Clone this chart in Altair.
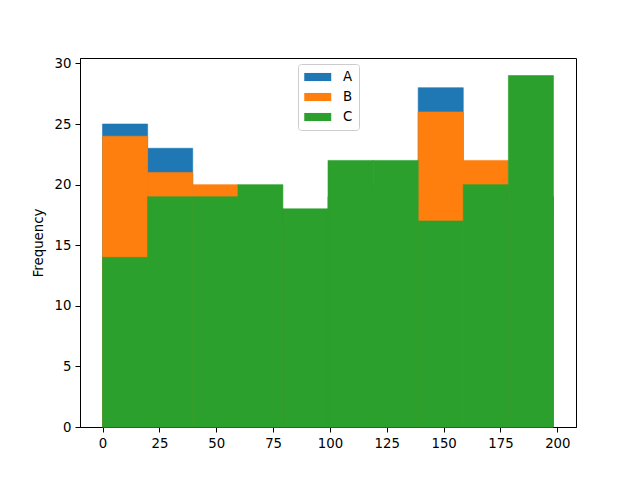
import altair as alt
import pandas as pd
import numpy as np

series = ["A", "B", "C"]
counts_A = [25, 23, 17, 18, 15, 19, 20, 28, 16, 19]
counts_B = [24, 21, 20, 17, 16, 18, 19, 26, 22, 17]
counts_C = [14, 19, 19, 20, 18, 22, 22, 17, 20, 29]
colors = ["#1f77b4", "#ff7f0e", "#2ca02c"]
x_ticks = [0, 25, 50, 75, 100, 125, 150, 175, 200]
y_ticks = [0, 5, 10, 15, 20, 25, 30]

data_min, data_max = 0.0, 198.3
edges = np.linspace(data_min, data_max, 11)

rows = []
for name, counts in zip(series, [counts_A, counts_B, counts_C]):
    for i, c in enumerate(counts):
        rows.append({"series": name, "start": edges[i], "end": edges[i + 1], "count": c})
df = pd.DataFrame(rows)

pad = 0.05 * (data_max - data_min)
xscale = alt.Scale(domain=[data_min - pad, data_max + pad], nice=False, zero=False)
yscale = alt.Scale(domain=[0, 29 * 1.05], nice=False)
cscale = alt.Scale(domain=series, range=colors)

def layer(name):
    return alt.Chart(df).transform_filter(alt.datum.series == name).mark_rect(strokeWidth=0.6).encode(
        x=alt.X("start:Q", scale=xscale, title=None,
                axis=alt.Axis(values=x_ticks, grid=False, labelFontSize=13.3, tickSize=5,
                              labelPadding=4, tickColor="black", domainColor="black",
                              labelColor="black", format="d", labelFlush=False)),
        x2="end:Q",
        y=alt.Y("count:Q", scale=yscale, title="Frequency",
                axis=alt.Axis(values=y_ticks, grid=False, labelFontSize=13.3, tickSize=5,
                              labelPadding=4, tickColor="black", domainColor="black",
                              labelColor="black", titleFontSize=13.3, titleFontWeight="normal",
                              titlePadding=9, titleColor="black")),
        y2=alt.datum(0),
        stroke=alt.Stroke("series:N", scale=cscale, legend=None),
        color=alt.Color("series:N", scale=cscale,
                        legend=alt.Legend(title=None, orient="none", legendX=218, legendY=6,
                                          symbolType="M-1,-0.6L3,-0.6L3,0.6L-1,0.6Z",
                                          symbolSize=182, symbolStrokeWidth=0,
                                          labelFontSize=13.3, labelOffset=25,
                                          rowPadding=6, padding=6,
                                          fillColor="white", strokeColor="#cccccc",
                                          cornerRadius=3, labelColor="black")),
    )

chart = alt.layer(layer("A"), layer("B"), layer("C")).properties(
    width=496, height=369,
    padding={"left": 72, "top": 50, "right": 56, "bottom": 45},
    autosize="none",
).configure(font="DejaVu Sans").configure_view(stroke="black", strokeWidth=1)

chart.save("out.html", embed_options={"renderer": "svg", "actions": False})
